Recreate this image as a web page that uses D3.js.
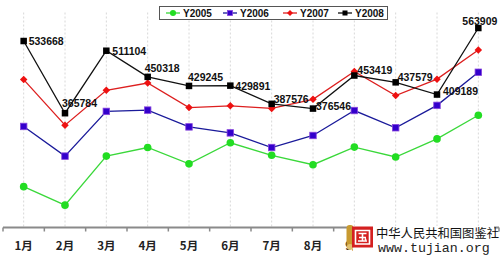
<!DOCTYPE html>
<html><head><meta charset="utf-8">
<script src="https://cdn.jsdelivr.net/npm/d3@7"></script>
<style>body{margin:0;background:#fff;}svg{display:block;}</style>
</head><body>
<script>
const months = ["1月","2月","3月","4月","5月","6月","7月","8月","9月","10月","11月","12月"];
const seriesNames = ["Y2005","Y2006","Y2007","Y2008"];
const y2005 = [195000,152000,266000,286000,248000,297000,268000,246000,287000,264000,306000,361000];
const y2006 = [335000,266000,370000,373000,334000,320000,286000,314000,372000,332000,384000,461000];
const y2007 = [444000,338000,419000,436000,379000,383000,377000,398000,463000,407000,445000,513000];
const y2008 = [533668,365784,511104,450318,429245,429891,387576,376546,453419,437579,409189,563909];
const yDomain = [100000, 600000];

// label layout (offset of text start / vertical centre from point)
const labelOffsets = [[5,0],[-3,-10],[6,0],[-3,-9],[-1,-9],[5,0],[2,-5],[3,-3],[3,-6],[2,-5],[6,-4],[-16,-7]];

const W = 500, H = 259;
const svg = d3.select("body").append("svg").attr("width", W).attr("height", H);

const x = d3.scaleBand().domain(months).range([3, 499]).paddingInner(0).paddingOuter(0);
const y = d3.scaleLinear().domain(yDomain).range([227.5, 12.5]);
const cx = m => x(m) + x.bandwidth() / 2;

// watermark region (covers the last month labels in the reference)
const wmLeft = 346;

// gridlines
svg.append("g").selectAll("line").data(months).join("line")
  .attr("x1", cx).attr("x2", cx).attr("y1", y(yDomain[1])).attr("y2", y(yDomain[0]))
  .attr("stroke", "#d8d8d8").attr("stroke-width", 1).attr("stroke-dasharray", "2,2");

// axis
const ax = svg.append("g");
ax.append("line").attr("x1", x.range()[0]).attr("x2", x.range()[1])
  .attr("y1", y(yDomain[0])).attr("y2", y(yDomain[0]))
  .attr("stroke", "#8a8a8a").attr("stroke-width", 2);
const tickXs = months.map(m => x(m)).concat([x.range()[1]]);
ax.selectAll("line.t").data(tickXs).join("line").attr("class","t")
  .attr("x1", d => d).attr("x2", d => d)
  .attr("y1", y(yDomain[0])).attr("y2", y(yDomain[0]) + 4)
  .attr("stroke", "#8a8a8a").attr("stroke-width", 1.5);
ax.selectAll("text").data(months.filter(m => x(m) < wmLeft)).join("text")
  .attr("x", cx).attr("y", 245).attr("text-anchor", "middle").attr("dominant-baseline", "central")
  .attr("font-family", "'Noto Sans CJK SC', sans-serif").attr("font-weight", "bold").attr("font-size", 11.5)
  .attr("fill", "#222").text(d => d);

const series = [
  {name: seriesNames[0], vals: y2005, line: "#3ad83a", fill: "#22dd22", shape: "circle"},
  {name: seriesNames[1], vals: y2006, line: "#1a1a9a", fill: "#3300cc", shape: "square", stroke: "#8844dd"},
  {name: seriesNames[2], vals: y2007, line: "#dd1f1f", fill: "#ee1111", shape: "diamond"},
  {name: seriesNames[3], vals: y2008, line: "#111", fill: "#000", shape: "square"}
];

function marker(g, shape, fill, size, stroke) {
  if (shape === "circle") g.append("circle").attr("r", size/2 + 0.3).attr("fill", fill);
  else if (shape === "square") g.append("rect").attr("x", -size/2).attr("y", -size/2).attr("width", size).attr("height", size)
      .attr("fill", fill).attr("stroke", stroke || "none").attr("stroke-width", stroke ? 0.8 : 0);
  else g.append("path").attr("d", `M0,${-size/2 - 0.5}L${size/2 + 0.5},0L0,${size/2 + 0.5}L${-size/2 - 0.5},0Z`).attr("fill", fill);
}

const line = d3.line().x((d, i) => cx(months[i])).y(d => y(d));
series.forEach(s => {
  const g = svg.append("g");
  g.append("path").datum(s.vals).attr("d", line).attr("fill", "none").attr("stroke", s.line).attr("stroke-width", 1.3);
  s.vals.forEach((v, i) => {
    const mg = g.append("g").attr("transform", `translate(${cx(months[i])},${y(v)})`);
    marker(mg, s.shape, s.fill, s.shape === "circle" ? 7 : 6.5, s.stroke);
  });
});

// value labels for Y2008
svg.append("g").selectAll("text").data(y2008).join("text")
  .attr("x", (d, i) => cx(months[i]) + labelOffsets[i][0])
  .attr("y", (d, i) => y(d) + labelOffsets[i][1])
  .attr("dominant-baseline", "central")
  .attr("font-family", "'Liberation Sans', Arial, sans-serif").attr("font-weight", "bold").attr("font-size", 10.5)
  .attr("fill", "#111").text(d => d);

// legend
const lg = svg.append("g");
lg.append("rect").attr("x", 159.5).attr("y", 6.5).attr("width", 228).attr("height", 13)
  .attr("fill", "#fff").attr("stroke", "#555").attr("stroke-width", 1);
const legX = [166, 223, 283, 338];
series.forEach((s, i) => {
  const gx = lg.append("g").attr("transform", `translate(${legX[i]},13)`);
  gx.append("line").attr("x1", 0).attr("x2", 14).attr("stroke", s.line).attr("stroke-width", 1.3);
  const mg = gx.append("g").attr("transform", "translate(7,0)");
  marker(mg, s.shape, s.fill, s.shape === "circle" ? 5.5 : 5, s.stroke);
  gx.append("text").attr("x", 17).attr("y", 0).attr("dominant-baseline", "central")
    .attr("font-family", "'Liberation Sans', Arial, sans-serif").attr("font-weight", "bold").attr("font-size", 10)
    .attr("fill", "#111").text(s.name);
});

// watermark
const wm = svg.append("g");
wm.append("rect").attr("x", 353).attr("y", 226).attr("width", 141).attr("height", 30).attr("fill", "#fff");
wm.append("rect").attr("x", 346.5).attr("y", 225).attr("width", 7).attr("height", 24).attr("rx", 3).attr("fill", "#c89a30");
wm.append("circle").attr("cx", 350).attr("cy", 247).attr("r", 3).attr("fill", "#e0c070");
wm.append("rect").attr("x", 352).attr("y", 226.5).attr("width", 21).attr("height", 21).attr("fill", "#d42020");
// logo glyph drawn as strokes
wm.append("path")
  .attr("d", "M355.5,230.5H369.5V244H355.5Z M358.5,233.5H366.5 M359,237.5H366 M358,241H367 M362.5,233.5V241 M365,238.5L366,240")
  .attr("fill", "none").attr("stroke", "#fff").attr("stroke-width", 1.6);
wm.append("text").attr("x", 376).attr("y", 232.5).attr("dominant-baseline", "central")
  .attr("font-family", "'Noto Sans CJK SC'").attr("font-size", 12.3).attr("fill", "#111").text("中华人民共和国图鉴社");
wm.append("text").attr("x", 378).attr("y", 248).attr("dominant-baseline", "central")
  .attr("font-family", "'Liberation Mono', monospace").attr("font-size", 13.3).attr("fill", "#222").text("www.tujian.org");
</script>
</body></html>
